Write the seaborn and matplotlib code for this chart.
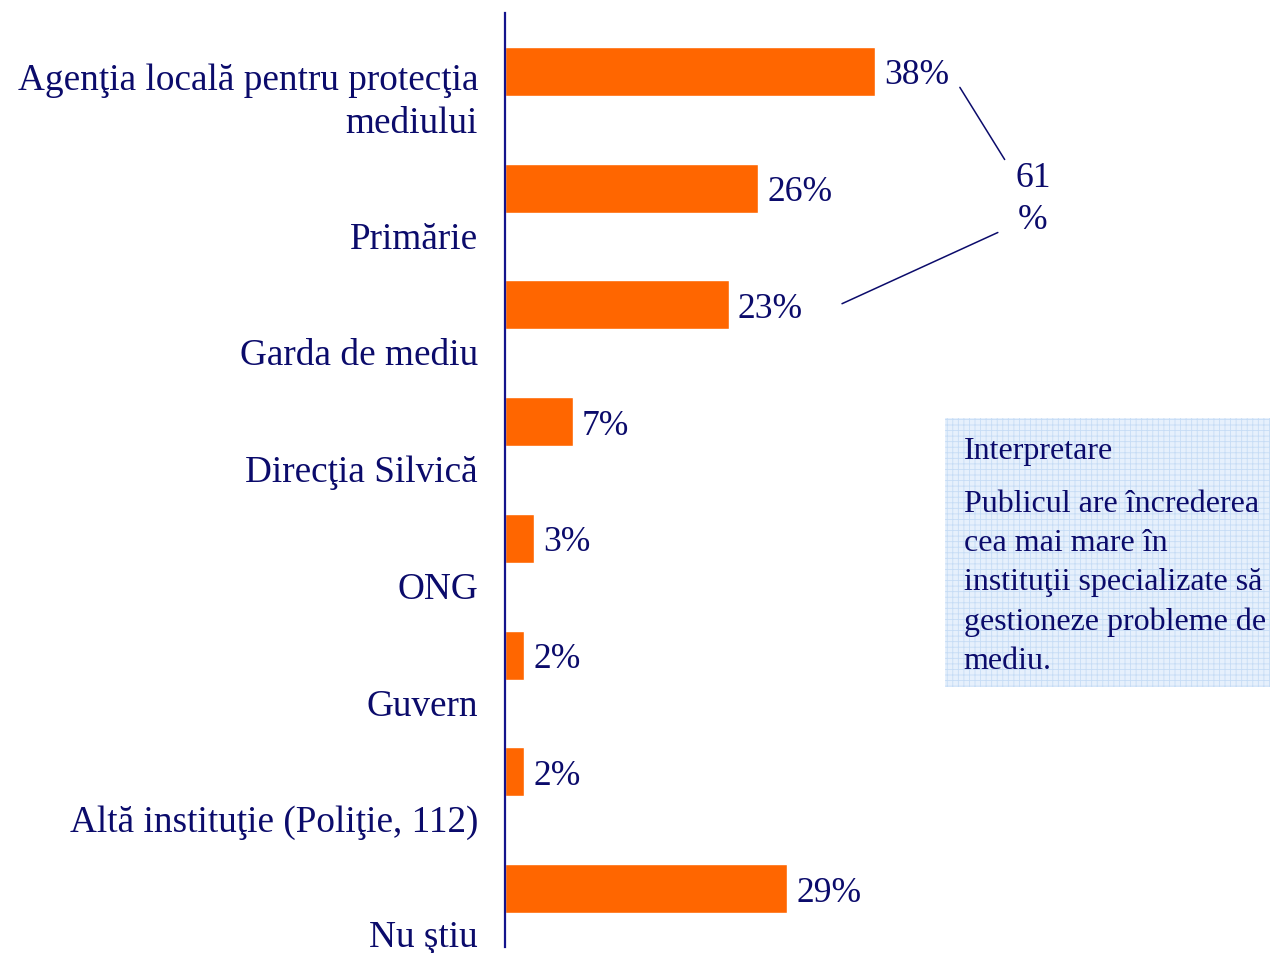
import matplotlib
matplotlib.use("Agg")
import matplotlib.pyplot as plt
import seaborn as sns
import pandas as pd
from matplotlib.patches import Rectangle

categories = ["Agenţia locală pentru protecţia\nmediului", "Primărie", "Garda de mediu",
              "Direcţia Silvică", "ONG", "Guvern", "Altă instituţie (Poliţie, 112)", "Nu ştiu"]
values = [38, 26, 23, 7, 3, 2, 2, 29]
value_labels = ["38%", "26%", "23%", "7%", "3%", "2%", "2%", "29%"]
total_label = "61\n%"
box_title = "Interpretare"
box_text = "Publicul are încrederea\ncea mai mare în\ninstituţii specializate să\ngestioneze probleme de\nmediu."

sns.set_theme(style="white")
plt.rcParams['font.family'] = ['Liberation Serif', 'DejaVu Serif']
plt.rcParams['hatch.linewidth'] = 0.6

TXT = '#0B0B6B'
AXC = '#14148C'
BAR = '#FF6600'
PX = 9.74     # pixels per percent
PY = 116.6    # pixels per category

fig = plt.figure(figsize=(12.7, 9.54), dpi=100)
ax = fig.add_axes([505/1270, 1-948/954, (1270-505)/1270, (948-14)/954])

df = pd.DataFrame({"cat": categories, "val": values})
sns.barplot(data=df, x="val", y="cat", color=BAR, saturation=1, width=0.42, ax=ax, orient="h")

ax.set_xlim(0, 765/PX)
ax.set_ylim(7.5, -0.5)
ax.set_xlabel("")
ax.set_ylabel("")
ax.set_xticks([])
for s in ["top", "right", "bottom"]:
    ax.spines[s].set_visible(False)
ax.spines["left"].set_color(AXC)
ax.spines["left"].set_linewidth(1.6)

# category labels (positioned below bars like the original)
ax.set_yticks([])
offsets = [0.255] + [0.43] * 6 + [0.41]
for i, (c, o) in enumerate(zip(categories, offsets)):
    ax.text(-27/PX, i + o, c, ha='right', va='center', fontsize=26.8, color=TXT,
            linespacing=1.32, clip_on=False)

for i, (v, lab) in enumerate(zip(values, value_labels)):
    ax.text(v + 0.9, i + 0.03, lab, ha='left', va='center', fontsize=25.6, color=TXT)

# bracket to 61%
ax.plot([46.7, 51.3], [0.137, 0.755], color=TXT, lw=1.1, clip_on=False)
ax.plot([50.6, 34.6], [1.38, 1.99], color=TXT, lw=1.1, clip_on=False)
ax.text(54.2, (199 - 72)/PY, total_label, ha='center', va='center', fontsize=25.6, color=TXT,
        linespacing=1.36)

# interpretation box
rect = Rectangle((45.2, 2.97), 78.9 - 45.2, 5.27 - 2.97, facecolor='#E6F0FC',
                 edgecolor='#C6DCF5', hatch='+++', linewidth=0, clip_on=False)
ax.add_patch(rect)
ax.text(47.1, (451 - 72)/PY, box_title, ha='left', va='center', fontsize=23, color=TXT)
ax.text(47.1, (489 - 72)/PY, box_text, ha='left', va='top', fontsize=23, color=TXT,
        linespacing=1.46)

fig.savefig("out.png", dpi=100)
